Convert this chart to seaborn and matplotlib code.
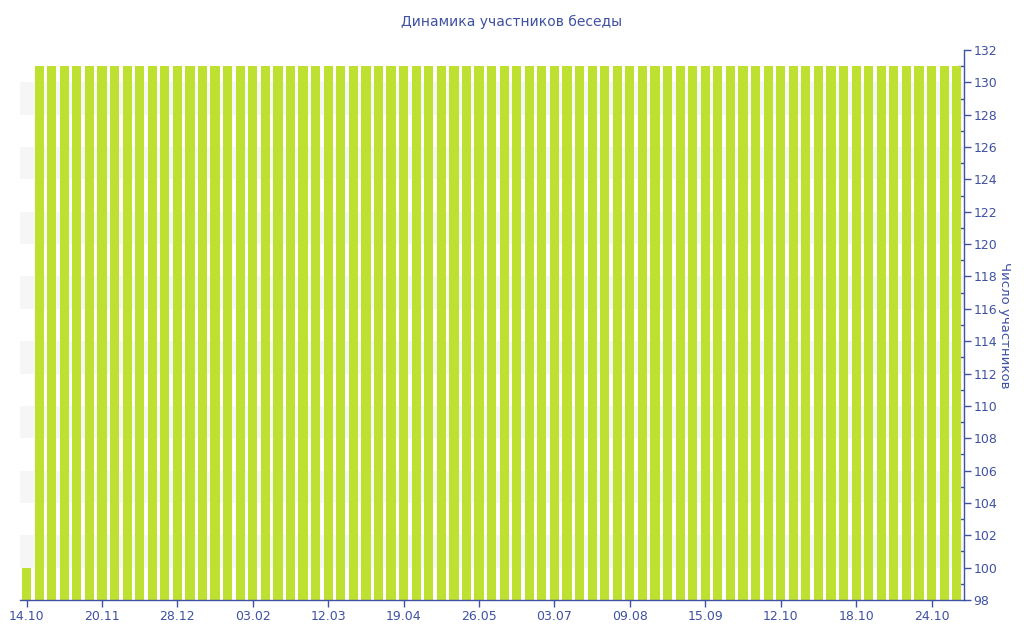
import numpy as np
import pandas as pd
import matplotlib
matplotlib.use("Agg")
import matplotlib.pyplot as plt
import seaborn as sns

# число участников беседы по срезам (75 столбцов)
members = [
    100, 131, 131, 131, 131, 131, 131, 131, 131, 131,
    131, 131, 131, 131, 131, 131, 131, 131, 131, 131,
    131, 131, 131, 131, 131, 131, 131, 131, 131, 131,
    131, 131, 131, 131, 131, 131, 131, 131, 131, 131,
    131, 131, 131, 131, 131, 131, 131, 131, 131, 131,
    131, 131, 131, 131, 131, 131, 131, 131, 131, 131,
    131, 131, 131, 131, 131, 131, 131, 131, 131, 131,
    131, 131, 131, 131, 131,
]
tick_labels = ["14.10", "20.11", "28.12", "03.02", "12.03", "19.04", "26.05",
               "03.07", "09.08", "15.09", "12.10", "18.10", "24.10"]
TICK_STEP = 6

AXIS_COLOR = "#3f51a3"
BAR_COLOR = "#bee031"

df = pd.DataFrame({"idx": np.arange(len(members)), "members": members})

sns.set_theme(style="white")
plt.rcParams["font.family"] = ["DejaVu Sans"]

fig = plt.figure(figsize=(10.24, 6.4), dpi=100)
ax = fig.add_axes([20 / 1024, 40 / 640, 944 / 1024, 550 / 640])

# полосы фона
for lo in range(100, 132, 4):
    ax.axhspan(lo, lo + 2, color="#f6f6f6", zorder=0, lw=0)

sns.barplot(data=df, x="idx", y="members", color=BAR_COLOR, width=0.73,
            saturation=1, ax=ax, zorder=2, linewidth=0)

ax.set_ylim(98, 132)
ax.set_xlim(-0.52, len(members) - 0.42)

ax.yaxis.tick_right()
ax.yaxis.set_label_position("right")
ax.set_yticks(range(98, 133, 2))
ax.set_yticks(range(99, 132, 2), minor=True)
ax.tick_params(axis="y", which="major", direction="out", length=5, width=1,
               colors=AXIS_COLOR, labelsize=9, pad=2)
ax.tick_params(axis="y", which="minor", direction="in", length=4, width=1,
               colors=AXIS_COLOR)
ax.yaxis.set_tick_params(which="minor", left=False, right=True)

pos = list(range(0, len(members), TICK_STEP))[:len(tick_labels)]
ax.set_xticks(pos)
ax.set_xticklabels(tick_labels)
ax.tick_params(axis="x", direction="out", length=5, width=1,
               colors=AXIS_COLOR, labelsize=9, pad=2, bottom=True)

for side in ["top", "left"]:
    ax.spines[side].set_visible(False)
for side in ["right", "bottom"]:
    ax.spines[side].set_visible(True)
    ax.spines[side].set_color(AXIS_COLOR)
    ax.spines[side].set_linewidth(1)

ax.set_xlabel("")
ax.set_ylabel("Число участников", color=AXIS_COLOR, fontsize=9.5,
              rotation=270, labelpad=10)
ax.grid(False)

fig.suptitle("Динамика участников беседы", color=AXIS_COLOR, fontsize=10,
             x=512 / 1024, y=1 - 22 / 640, va="center")

fig.savefig("out.png", dpi=100)
